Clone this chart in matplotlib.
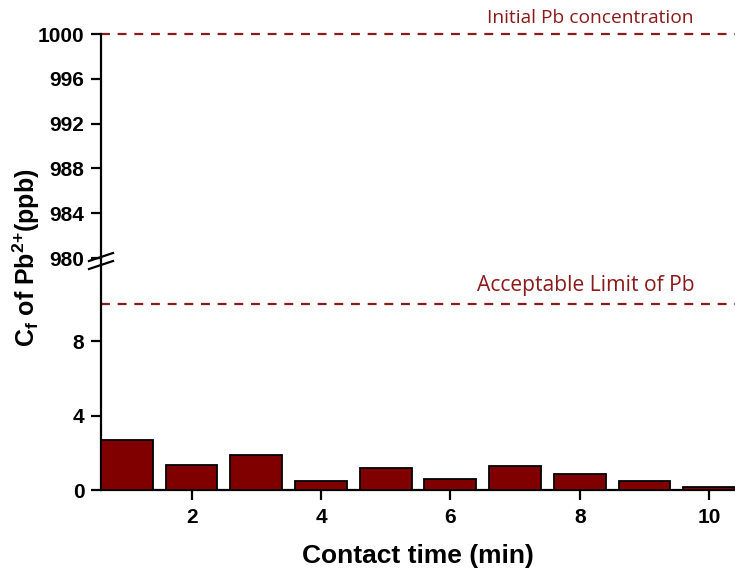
import matplotlib
matplotlib.use("Agg")
import matplotlib.pyplot as plt
import numpy as np

plt.rcParams["mathtext.fontset"] = "custom"
plt.rcParams["mathtext.rm"] = "Liberation Sans:bold"
plt.rcParams["mathtext.bf"] = "Liberation Sans:bold"
plt.rcParams["mathtext.it"] = "Liberation Sans:bold"

# Data
contact_time = [1, 2, 3, 4, 5, 6, 7, 8, 9, 10]
cf_values = [2.69, 1.36, 1.86, 0.47, 1.17, 0.57, 1.27, 0.88, 0.48, 0.18]
initial_conc = 1000
acceptable_limit = 10
x_ticks = [2, 4, 6, 8, 10]
upper_yticks = [980, 984, 988, 992, 996, 1000]
lower_yticks = [0, 4, 8]

W, H = 735, 574
fig = plt.figure(figsize=(W / 100, H / 100), dpi=100)
fig.patch.set_facecolor("white")

left = 101 / W
right = 1.0
y0 = 1 - 490 / H
ymid = 1 - 258 / H
ytop = 1 - 34 / H

ax_lo = fig.add_axes([left, y0, right - left, ymid - y0])
ax_hi = fig.add_axes([left, ymid, right - left, ytop - ymid])

bar_color = "#800000"
line_color = "#8B1A1A"
fs_tick = 15

for ax in (ax_lo, ax_hi):
    ax.set_xlim(0.6, 10.4)
    for s in ("top", "right"):
        ax.spines[s].set_visible(False)
    ax.spines["left"].set_linewidth(1.6)
    ax.spines["bottom"].set_linewidth(1.6)
    ax.tick_params(axis="both", direction="out", length=7, width=1.6, pad=5)

# Lower axis
ax_lo.bar(contact_time, cf_values, width=0.8, color=bar_color, edgecolor="black", linewidth=1.3, zorder=3)
ax_lo.axhline(acceptable_limit, color=line_color, linestyle=(0, (4, 3.5)), linewidth=1.6)
ax_lo.set_ylim(0, 12.47)
ax_lo.set_yticks(lower_yticks)
ax_lo.set_xticks(x_ticks)
for lab in ax_lo.get_xticklabels() + ax_lo.get_yticklabels():
    lab.set_fontfamily("Liberation Sans")
    lab.set_fontweight("bold")
    lab.set_fontsize(fs_tick)
ax_lo.tick_params(axis="x", pad=6)

# Upper axis
ax_hi.axhline(initial_conc, color=line_color, linestyle=(0, (4, 3.5)), linewidth=1.6, clip_on=False)
ax_hi.set_ylim(980, 1000)
ax_hi.set_yticks(upper_yticks)
ax_hi.spines["bottom"].set_visible(False)
ax_hi.tick_params(axis="x", bottom=False, labelbottom=False)
for lab in ax_hi.get_yticklabels():
    lab.set_fontfamily("Liberation Sans")
    lab.set_fontweight("bold")
    lab.set_fontsize(fs_tick)
ax_hi.patch.set_alpha(0)

# Break marks
bx = left
by = 1 - 261 / H
for off in (-4 / H, 4 / H):
    fig.add_artist(plt.Line2D([bx - 12 / W, bx + 12 / W], [by + off - 4 / H, by + off + 4 / H],
                              color="black", linewidth=1.6, transform=fig.transFigure, zorder=6))

# Annotations
fig.text(590 / W, 1 - 18 / H, "Initial Pb concentration", color=line_color,
         family="Open Sans", fontsize=13.8, ha="center", va="center")
fig.text(586 / W, 1 - 285 / H, "Acceptable Limit of Pb", color=line_color,
         family="Open Sans", fontsize=15.2, ha="center", va="center")

# Axis labels
fig.text(418 / W, 1 - 556 / H, "Contact time (min)", family="Liberation Sans",
         fontweight="bold", fontsize=19, ha="center", va="center")
fig.text(26 / W, 1 - 258 / H, r"C$_{\mathbf{f}}$ of Pb$^{\mathbf{2{+}}}$(ppb)", family="Liberation Sans",
         fontweight="bold", fontsize=18, ha="center", va="center", rotation=90)

fig.savefig("out.png", dpi=100)
